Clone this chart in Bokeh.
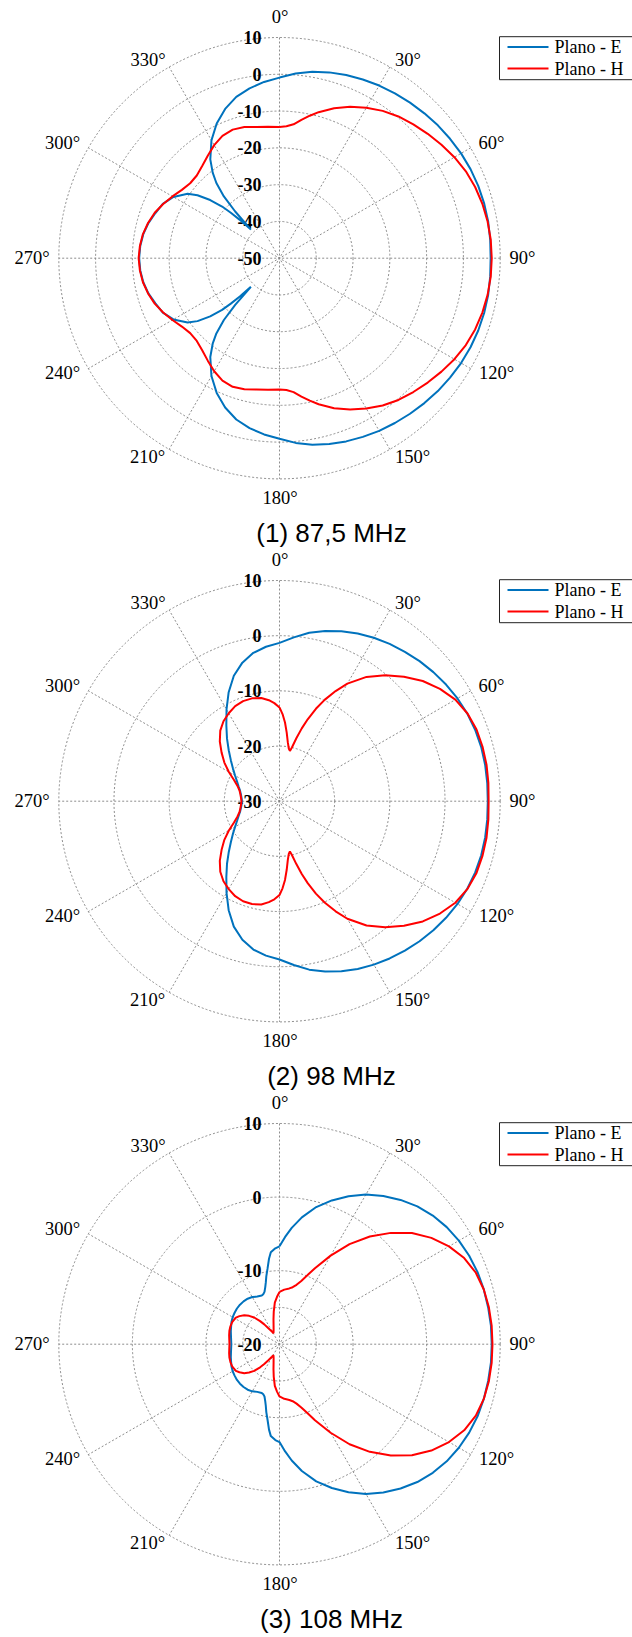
import numpy as np
from bokeh.plotting import figure
from bokeh.layouts import column
from bokeh.models import Range1d
from bokeh.embed import file_html
from bokeh.resources import INLINE
from bokeh.core.properties import value

# ---------------- data ----------------
titles = ["(1) 87,5 MHz", "(2) 98 MHz", "(3) 108 MHz"]
legend_labels = ["Plano - E", "Plano - H"]
angle_ticks = [0, 30, 60, 90, 120, 150, 180, 210, 240, 270, 300, 330]
angle_tick_labels = ["0°", "30°", "60°", "90°", "120°", "150°", "180°", "210°", "240°", "270°", "300°", "330°"]

r_limits = [(-50, 10), (-30, 10), (-20, 10)]
ring_values = [[-40, -30, -20, -10, 0, 10], [-20, -10, 0, 10], [-15, -10, 0, 10]]
ring_label_values = [[10, 0, -10, -20, -30, -40, -50], [10, 0, -10, -20, -30], [10, 0, -10, -20]]

# sampling grid used for the smoother curves (degrees)
ang5 = [0, 5, 10, 15, 20, 25, 30, 35, 40, 45, 50, 55, 60, 65, 70, 75, 80, 85, 90,
        95, 100, 105, 110, 115, 120, 125, 130, 135, 140, 145, 150, 155, 160, 165, 170, 175, 180,
        185, 190, 195, 200, 205, 210, 215, 220, 225, 230, 235, 240, 245, 250, 255, 260, 265, 270,
        275, 280, 285, 290, 295, 300, 305, 310, 315, 320, 325, 330, 335, 340, 345, 350, 355, 360]

# Panel 1 - 87,5 MHz
e1_ang = [0, 5, 10, 15, 20, 25, 30, 35, 40, 45, 50, 55, 60, 65, 70, 75, 80, 85, 90,
          95, 100, 105, 110, 115, 120, 125, 130, 135, 140, 145, 150, 155, 160, 165, 170, 175, 180,
          185, 190, 195, 200, 205, 210, 215, 218, 220, 222, 223.5, 225, 226, 227, 228, 230, 232.5, 235, 240, 245, 250, 255, 260, 265, 270,
          275, 280, 285, 290, 295, 300, 305, 307.5, 310, 312, 313, 314, 315, 316.5, 318, 320, 322, 325, 330, 335, 340, 345, 350, 355, 360]
e1_db = [-0.9, 0.4, 1.5, 2.3, 3.0, 3.6, 4.2, 4.7, 5.2, 5.7, 6.2, 6.6, 7.0, 7.3, 7.5, 7.6, 7.6, 7.5, 7.4,
         7.5, 7.6, 7.6, 7.5, 7.3, 7.0, 6.6, 6.2, 5.7, 5.2, 4.7, 4.2, 3.6, 3.0, 2.3, 1.5, 0.4, -0.9,
         -1.9, -3.1, -4.6, -6.8, -9.6, -13.0, -17.2, -20.5, -23.3, -27.4, -32.5, -39.0, -35.0, -31.9, -29.0, -25.4, -21.9, -19.5, -16.7, -15.0, -14.1, -13.1, -12.4, -12.0, -11.85,
         -12.0, -12.4, -13.1, -14.1, -15.0, -16.7, -19.5, -21.9, -25.4, -29.0, -31.9, -35.0, -39.0, -32.5, -27.4, -23.3, -20.5, -17.2, -13.0, -9.6, -6.8, -4.6, -3.1, -1.9, -0.9]
h1_ang = [0, 3, 6, 9, 12, 15, 20, 25, 30, 35, 40, 45, 50, 55, 60, 65, 70, 75, 80, 85, 90,
          95, 100, 105, 110, 115, 120, 125, 130, 135, 140, 145, 150, 155, 160, 165, 168, 171, 174, 177, 180,
          185, 190, 195, 200, 205, 210, 215, 220, 225, 230, 235, 240, 245, 250, 255, 260, 265, 270,
          275, 280, 285, 290, 295, 300, 305, 310, 315, 320, 325, 330, 335, 340, 345, 350, 355, 360]
h1_db = [-14.3, -14.1, -13.4, -11.9, -10.4, -8.9, -6.6, -4.6, -2.8, -1.1, 0.3, 1.45, 2.6, 3.75, 4.9, 5.9, 6.6, 7.1, 7.45, 7.65, 7.7,
         7.65, 7.45, 7.1, 6.6, 5.9, 4.9, 3.75, 2.6, 1.45, 0.3, -1.1, -2.8, -4.6, -6.6, -8.9, -10.4, -11.9, -13.4, -14.1, -14.3,
         -14.1, -13.75, -13.1, -12.8, -13.3, -14.5, -16.0, -17.3, -18.2, -18.3, -17.6, -16.4, -15.1, -13.9, -13.0, -12.3, -11.9, -11.7,
         -11.9, -12.3, -13.0, -13.9, -15.1, -16.4, -17.6, -18.3, -18.2, -17.3, -16.0, -14.5, -13.3, -12.8, -13.1, -13.75, -14.1, -14.3]

# Panel 2 - 98 MHz
e2_ang = ang5
e2_db = [-1.3, -0.2, 1.0, 1.95, 2.8, 3.55, 4.2, 4.8, 5.35, 5.9, 6.4, 6.85, 7.25, 7.55, 7.75, 7.85, 7.85, 7.8, 7.75,
         7.8, 7.85, 7.85, 7.75, 7.55, 7.25, 6.85, 6.4, 5.9, 5.35, 4.8, 4.2, 3.55, 2.8, 1.95, 1.0, -0.2, -1.3,
         -1.9, -2.7, -4.0, -5.8, -8.2, -10.8, -13.2, -15.2, -17.0, -18.5, -19.7, -20.7, -21.5, -22.1, -22.6, -22.9, -23.1, -23.2,
         -23.1, -22.9, -22.6, -22.1, -21.5, -20.7, -19.7, -18.5, -17.0, -15.2, -13.2, -10.8, -8.2, -5.8, -4.0, -2.7, -1.9, -1.3]
h2_ang = [0, 2, 4, 6, 8, 10, 11.7, 13, 15, 17, 19, 21.5, 24, 27, 30, 35, 40, 45, 50, 55, 60, 65, 70, 75, 80, 85, 90,
          95, 100, 105, 110, 115, 120, 125, 130, 135, 140, 145, 150, 153, 156, 158.5, 161, 163, 165, 167, 168.3, 170, 172, 174, 176, 178, 180,
          183, 186, 190, 195, 200, 205, 210, 215, 220, 225, 230, 235, 240, 245, 250, 255, 260, 265, 270,
          275, 280, 285, 290, 295, 300, 305, 310, 315, 320, 325, 330, 335, 340, 345, 350, 354, 357, 360]
h2_db = [-13.0, -14.2, -15.7, -17.5, -19.2, -20.3, -20.7, -20.0, -18.2, -16.2, -14.3, -12.0, -9.9, -7.6, -5.4, -2.5, -0.2, 1.9, 3.9, 5.5, 6.8, 7.6, 8.0, 8.1, 8.1, 8.0, 7.9,
         8.0, 8.1, 8.1, 8.0, 7.6, 6.8, 5.5, 3.9, 1.9, -0.2, -2.5, -5.4, -7.6, -9.9, -12.0, -14.3, -16.2, -18.2, -20.0, -20.7, -20.3, -19.2, -17.5, -15.7, -14.2, -13.0,
         -12.2, -11.6, -11.0, -10.7, -10.7, -11.0, -11.6, -12.3, -13.3, -14.7, -16.3, -17.8, -19.4, -20.9, -21.9, -22.5, -22.8, -23.0, -23.1,
         -23.0, -22.8, -22.5, -21.9, -20.9, -19.4, -17.8, -16.3, -14.7, -13.3, -12.3, -11.6, -11.0, -10.7, -10.7, -11.0, -11.6, -12.2, -13.0]

# Panel 3 - 108 MHz
e3_ang = [0, 3, 6, 10, 15, 20, 25, 30, 35, 40, 45, 50, 55, 60, 65, 70, 75, 80, 85, 90,
          95, 100, 105, 110, 115, 120, 125, 130, 135, 140, 145, 150, 155, 160, 165, 170, 174, 177, 180,
          182.5, 185.4, 187, 189, 191, 192.5, 194, 196, 198, 200, 205, 210, 215, 220, 225, 230, 235, 240, 245, 250, 255, 260, 265, 270,
          275, 280, 285, 290, 295, 300, 305, 310, 315, 320, 325, 330, 335, 340, 342, 344, 346, 347.5, 349, 351, 353, 354.6, 357.5, 360]
e3_db = [-6.7, -5.4, -4.1, -2.5, -0.7, 0.8, 2.2, 3.5, 4.6, 5.6, 6.5, 7.2, 7.75, 8.15, 8.45, 8.65, 8.75, 8.8, 8.85, 8.85,
         8.85, 8.8, 8.75, 8.65, 8.45, 8.15, 7.75, 7.2, 6.5, 5.6, 4.6, 3.5, 2.2, 0.8, -0.7, -2.5, -4.1, -5.4, -6.7,
         -6.95, -7.45, -8.3, -9.6, -10.6, -11.4, -12.0, -12.6, -12.85, -12.95, -12.85, -12.6, -12.45, -12.4, -12.4, -12.45, -12.55, -12.65, -12.8, -13.0, -13.15, -13.3, -13.4, -13.45,
         -13.4, -13.3, -13.15, -13.0, -12.8, -12.65, -12.55, -12.45, -12.4, -12.4, -12.45, -12.6, -12.85, -12.95, -12.85, -12.6, -12.0, -11.4, -10.6, -9.6, -8.3, -7.45, -6.95, -6.7]
h3_ang = [0, 5, 10, 13, 16, 19, 22, 25, 30, 35, 40, 45, 50, 55, 60, 65, 70, 75, 80, 85, 90,
          95, 100, 105, 110, 115, 120, 125, 130, 135, 140, 145, 150, 155, 158, 161, 164, 167, 170, 175, 180,
          183, 186.4, 190, 193.5, 198, 203, 208.6, 211, 214.6, 217.5, 220, 223.5, 227, 230.6, 235, 238.6, 245, 250, 255, 260, 265, 270,
          275, 280, 285, 290, 295, 301.4, 305, 309.4, 313, 316.5, 320, 322.5, 325.4, 329, 331.4, 337, 342, 346.5, 350, 353.6, 357, 360]
h3_db = [-12.9, -12.55, -12.3, -12.05, -11.6, -10.9, -9.9, -8.6, -6.1, -3.4, -0.9, 1.4, 3.5, 5.2, 6.6, 7.7, 8.4, 8.75, 8.9, 8.95, 8.95,
         8.95, 8.9, 8.75, 8.4, 7.7, 6.6, 5.2, 3.5, 1.4, -0.9, -3.4, -6.1, -8.6, -9.9, -10.9, -11.6, -12.05, -12.3, -12.55, -12.9,
         -13.55, -14.3, -15.5, -16.5, -17.4, -17.95, -18.3, -18.0, -17.4, -16.6, -15.9, -15.0, -14.35, -13.8, -13.35, -13.05, -12.9, -12.9, -12.95, -13.05, -13.15, -13.2,
         -13.15, -13.05, -12.95, -12.9, -12.9, -13.05, -13.35, -13.8, -14.35, -15.0, -15.9, -16.6, -17.4, -18.0, -18.3, -17.95, -17.4, -16.5, -15.5, -14.3, -13.55, -12.9]

series = [((e1_ang, e1_db), (h1_ang, h1_db)),
          ((e2_ang, e2_db), (h2_ang, h2_db)),
          ((e3_ang, e3_db), (h3_ang, h3_db))]

# ---------------- layout / style ----------------
BLUE = "#0072BD"
RED = "#FF0000"
GRID = "#808080"
R = 220.7                      # outer ring radius, px
W = 632
heights = [551, 543, 542]
center_from_top = [257.7, 249.7, 249.7]
CX = 279                       # centre from figure left, px
SERIF = value("Liberation Serif")
SANS = value("Liberation Sans")

# angle-label offsets (dx, dy) from the centre, px
label_dx = [0.5, 128.5, 212, 243, 217, 133, 0.5, -132, -217, -247.5, -217, -131.5]
label_dy = [241, 198.5, 115, 0, -115, -199, -240, -199, -115, 0, 115.5, 198.5]


def build(i):
    h = heights[i]
    cy = center_from_top[i]
    rmin, rmax = r_limits[i]

    def rad(v):
        return np.clip((np.asarray(v, float) - rmin) / (rmax - rmin) * R, 0, None)

    p = figure(width=W, height=h,
               x_range=Range1d(-CX, W - CX), y_range=Range1d(-(h - cy), cy),
               output_backend="svg", toolbar_location=None,
               x_axis_type=None, y_axis_type=None, min_border=0)
    p.outline_line_color = None
    p.background_fill_color = "white"
    p.border_fill_color = "white"

    # rings
    rr = rad(ring_values[i])
    p.circle(x=[0] * len(rr), y=[0] * len(rr), radius=rr, fill_color=None,
             line_color=GRID, line_width=0.9, line_dash="2 2")
    # spokes
    sp = np.radians([0, 30, 60, 90, 120, 150])
    p.segment(x0=R * np.sin(sp), y0=R * np.cos(sp), x1=-R * np.sin(sp), y1=-R * np.cos(sp),
              line_color=GRID, line_width=0.9, line_dash="2 2")

    # angle labels
    p.text(x=label_dx, y=label_dy, text=angle_tick_labels, text_align="center",
           text_baseline="middle", text_font=SERIF, text_font_size="18.5px", text_color="black")
    # radial labels
    rl = ring_label_values[i]
    p.text(x=[-18] * len(rl), y=rad(rl), text=[str(v) for v in rl], text_align="right",
           text_baseline="middle", text_font=SERIF, text_font_size="18px",
           text_font_style="bold", text_color="black")

    # curves
    for (ang, db), col in zip(series[i], [BLUE, RED]):
        a = np.radians(ang)
        r = rad(db)
        p.line(x=r * np.sin(a), y=r * np.cos(a), line_color=col, line_width=2)

    # legend
    p.quad(left=[220], right=[420], top=[221.5], bottom=[178.5], fill_color="white",
           line_color="#222222", line_width=1)
    p.segment(x0=[228, 228], y0=[211.3, 189.7], x1=[269, 269], y1=[211.3, 189.7],
              line_color=[BLUE, RED], line_width=2)
    p.text(x=[275, 275], y=[211.3, 189.7], text=legend_labels, text_align="left",
           text_baseline="middle", text_font=SERIF, text_font_size="18px", text_color="black")

    # title
    p.text(x=[52], y=[-274.5], text=[titles[i]], text_align="center",
           text_baseline="middle", text_font=SANS, text_font_size="26px", text_color="black")
    return p


figs = [build(i) for i in range(3)]
layout = column(*figs, spacing=0)
open("out.html", "w").write(file_html(layout, INLINE))
